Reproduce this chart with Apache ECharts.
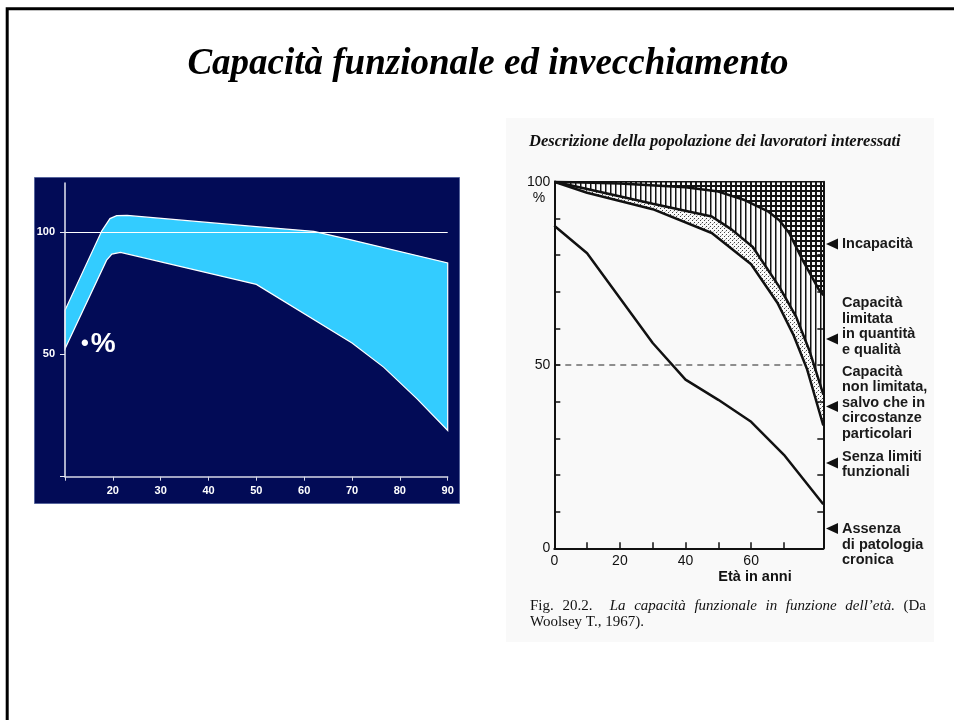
<!DOCTYPE html>
<html><head><meta charset="utf-8">
<script src="https://cdn.jsdelivr.net/npm/echarts@6/dist/echarts.min.js"></script>
<style>html,body{margin:0;padding:0;background:#fff}#c{width:954px;height:720px}</style>
</head><body><div id="c"></div>
<script>
// ---------- Left chart data: band of functional capacity (age, %) ----------
const leftAgeLabels = [20, 30, 40, 50, 60, 70, 80, 90];
const leftPctLabels = [50, 100];
const bandUpper = [[10, 68], [17.7, 100.5], [19.4, 105.5], [20.8, 106.7], [23, 106.8], [50, 102.2], [62, 100.3], [70, 96.7], [90, 87.4]];
const bandLower = [[10, 52.3], [18.7, 88.5], [19.8, 91], [21.6, 91.7], [50, 78.6], [70, 54.6], [76.6, 44.8], [83.6, 31.8], [90, 18.9]];
const leftRefValue = 100;

// ---------- Right chart data (Woolsey 1967) ----------
const rightAgeLabels = [0, 20, 40, 60];
const rightAgeTicks = [0, 10, 20, 30, 40, 50, 60, 70];
const rightPctLabels = [0, 50, 100];
const rightPctTicks = [10, 20, 30, 40, 50, 60, 70, 80, 90];
const lineAssenza = [[0, 88], [10, 80.5], [30, 56], [40, 46], [50, 40.5], [60, 34.5], [70, 25.5], [82, 12]];
const lineSenzaLimiti = [[0, 100], [10, 97], [30, 92.5], [48, 86], [60, 77.5], [68, 67], [73, 58], [77, 49], [82, 33.5]];
const lineNonLimitata = [[0, 100], [10, 98], [30, 94], [48, 90.5], [54, 87], [60.5, 82.2], [68.6, 71.3], [73.7, 63.2], [77.7, 54.1], [82, 42]];
const lineLimitata = [[0, 100], [20, 99.5], [40, 98.5], [50, 97.3], [58, 95], [65, 92], [68.6, 89.5], [71.6, 86], [75.7, 78.6], [80.7, 70.5], [82, 69]];
const lineIncapacita = [[0, 100], [82, 100]];
const ref50 = [[0, 50], [76.4, 50]];
const rightLabels = [
  { arrowY: 244, lines: ['Incapacità'], firstY: 244 },
  { arrowY: 339, lines: ['Capacità', 'limitata', 'in quantità', 'e qualità'], firstY: 303 },
  { arrowY: 406.5, lines: ['Capacità', 'non limitata,', 'salvo che in', 'circostanze', 'particolari'], firstY: 371.5 },
  { arrowY: 463, lines: ['Senza limiti', 'funzionali'], firstY: 456.5 },
  { arrowY: 528.5, lines: ['Assenza', 'di patologia', 'cronica'], firstY: 529 }
];
const captionLine1 = [['Fig.', 'n'], ['20.2.', 'n'], ['', 'n'], ['La', 'i'], ['capacità', 'i'], ['funzionale', 'i'], ['in', 'i'], ['funzione', 'i'], ['dell\u2019età.', 'i'], ['(Da', 'n']];
const captionLine2 = 'Woolsey T., 1967).';

// ---------- patterns ----------
function makeCanvas(w, h, draw) { const c = document.createElement('canvas'); c.width = w; c.height = h; draw(c.getContext('2d')); return c; }
const crossPat = makeCanvas(5, 5, g => { g.fillStyle = '#151515'; g.fillRect(0, 0, 5, 5); g.fillStyle = '#fafafa'; g.fillRect(2, 2, 3, 3); });
const vertPat = makeCanvas(5, 4, g => { g.fillStyle = '#fafafa'; g.fillRect(0, 0, 5, 4); g.fillStyle = '#111'; g.fillRect(0, 0, 1, 4); g.fillStyle = '#888'; g.fillRect(1, 0, 1, 4); });
const dotPat = makeCanvas(4, 4, g => { g.fillStyle = '#fafafa'; g.fillRect(0, 0, 4, 4); g.fillStyle = '#444'; g.fillRect(0, 0, 1, 1); g.fillRect(2, 2, 1, 1); g.fillStyle = '#bbb'; g.fillRect(1, 3, 1, 1); });

const chart = echarts.init(document.getElementById('c'), null, { renderer: 'canvas' });
const navy = '#020b56';
const sans = 'Liberation Sans';

const capFontN = '15px "Liberation Serif"';
const capFontI = 'italic 15px "Liberation Serif"';

const graphics = [
  { type: 'rect', z: -10, shape: { x: 506, y: 118, width: 428, height: 524 }, style: { fill: '#f9f9f9' } },
  { type: 'rect', z: -5, shape: { x: 34.5, y: 177.5, width: 425, height: 326 }, style: { fill: navy, stroke: '#56649c', lineWidth: 1 } },
  { type: 'rect', z: 100, shape: { x: 7.2, y: 8.7, width: 1200, height: 1200 }, style: { fill: null, stroke: '#000', lineWidth: 3 } },
  { type: 'text', z: 100, x: 488, y: 64, style: { text: 'Capacità funzionale ed invecchiamento', font: 'italic bold 37px "Liberation Serif"', fill: '#000', textAlign: 'center', textVerticalAlign: 'middle' } },
  { type: 'text', z: 100, x: 81, y: 344, style: { text: '{b|•}{p|%}', rich: { b: { fontSize: 22, fontWeight: 'bold', fill: '#fff', fontFamily: sans, padding: [0, 2, 0, 0] }, p: { fontSize: 28, fontWeight: 'bold', fill: '#fff', fontFamily: sans } }, textVerticalAlign: 'middle' } },
  { type: 'text', z: 100, x: 529, y: 142, style: { text: 'Descrizione della popolazione dei lavoratori interessati', font: 'italic bold 16.5px "Liberation Serif"', fill: '#111', textVerticalAlign: 'middle' } },
  { type: 'text', z: 100, x: 539, y: 198, style: { text: '%', font: '14px "Liberation Sans"', fill: '#111', textAlign: 'center', textVerticalAlign: 'middle' } },
  { type: 'text', z: 100, x: 755, y: 577, style: { text: 'Età in anni', font: 'bold 14.5px "Liberation Sans"', fill: '#111', textAlign: 'center', textVerticalAlign: 'middle' } },
  { type: 'text', z: 100, x: 530, y: 622, style: { text: captionLine2, font: capFontN, fill: '#111', textVerticalAlign: 'middle' } }
];
// justified first caption line
(function () {
  const g = document.createElement('canvas').getContext('2d');
  const x0 = 530, x1 = 926;
  const words = captionLine1.filter(w => w[0] !== '');
  let total = 0;
  const widths = words.map(w => { g.font = w[1] === 'i' ? capFontI : capFontN; const m = g.measureText(w[0]).width; total += m; return m; });
  const gaps = captionLine1.length - 1;
  const gap = (x1 - x0 - total) / gaps;
  let x = x0, wi = 0;
  captionLine1.forEach((w) => {
    if (w[0] === '') { x += gap; return; }
    graphics.push({ type: 'text', z: 100, x: x, y: 606, style: { text: w[0], font: w[1] === 'i' ? capFontI : capFontN, fill: '#111', textVerticalAlign: 'middle' } });
    x += widths[wi++] + gap;
  });
})();
rightLabels.forEach(l => {
  graphics.push({ type: 'polygon', z: 100, shape: { points: [[826, l.arrowY], [838, l.arrowY - 5.5], [838, l.arrowY + 5.5]] }, style: { fill: '#111' } });
  l.lines.forEach((t, i) => {
    graphics.push({ type: 'text', z: 100, x: 842, y: l.firstY + i * 15.5, style: { text: t, font: 'bold 14.5px "Liberation Sans"', fill: '#1a1a1a', textVerticalAlign: 'middle' } });
  });
});

function areaLine(name, data, fill, width) {
  const s = { name, type: 'line', xAxisIndex: 1, yAxisIndex: 1, data, symbol: 'none', silent: true,
    lineStyle: { color: '#111', width: width } };
  if (fill) s.areaStyle = { color: fill, opacity: 1, origin: 'start' };
  return s;
}
const pat = c => ({ image: c, repeat: 'repeat' });

const option = {
  animation: false,
  backgroundColor: '#fff',
  grid: [
    { left: 65, top: 183.1, width: 382.7, height: 293.6 },
    { left: 554.3, top: 181.7, width: 269, height: 366.6 }
  ],
  xAxis: [
    { gridIndex: 0, type: 'value', min: 10, max: 90, interval: 10, z: 10,
      axisLine: { show: true, lineStyle: { color: '#d6d8e6', width: 1.5 } },
      axisTick: { show: true, length: 4, lineStyle: { color: '#d6d8e6' } },
      axisLabel: { customValues: leftAgeLabels, color: '#fff', fontWeight: 'bold', fontSize: 11, fontFamily: sans, margin: 9 },
      splitLine: { show: false } },
    { gridIndex: 1, type: 'value', min: 0, max: 82, z: 10,
      axisLine: { show: true, lineStyle: { color: '#111', width: 2 } },
      axisTick: { show: true, inside: true, length: 6, customValues: rightAgeTicks, lineStyle: { color: '#111', width: 1.5 } },
      axisLabel: { customValues: rightAgeLabels, color: '#111', fontSize: 14, fontFamily: sans, margin: 6 },
      splitLine: { show: false } }
  ],
  yAxis: [
    { gridIndex: 0, type: 'value', min: 0, max: 120, z: 10,
      axisLine: { show: true, lineStyle: { color: '#e6e8f2', width: 1.5 } },
      axisTick: { show: true, length: 5, customValues: [0, 50, 100], lineStyle: { color: '#e6e8f2' } },
      axisLabel: { customValues: leftPctLabels, color: '#fff', fontWeight: 'bold', fontSize: 11, fontFamily: sans, margin: 10 },
      splitLine: { show: false } },
    { gridIndex: 1, type: 'value', min: 0, max: 100, z: 10,
      axisLine: { show: true, lineStyle: { color: '#111', width: 2 } },
      axisTick: { show: true, inside: true, length: 6, customValues: rightPctTicks, lineStyle: { color: '#111', width: 1.5 } },
      axisLabel: { customValues: rightPctLabels, color: '#111', fontSize: 14, fontFamily: sans, margin: 4 },
      splitLine: { show: false } },
    { gridIndex: 1, type: 'value', min: 0, max: 100, z: 10, position: 'right',
      axisLine: { show: true, onZero: false, lineStyle: { color: '#111', width: 2 } },
      axisTick: { show: true, inside: true, length: 6, customValues: rightPctTicks, lineStyle: { color: '#111', width: 1.5 } },
      axisLabel: { show: false }, splitLine: { show: false } }
  ],
  series: [
    { name: 'banda', type: 'custom', xAxisIndex: 0, yAxisIndex: 0, data: [0], silent: true,
      renderItem: function (params, api) {
        const pts = bandUpper.map(p => api.coord(p)).concat(bandLower.slice().reverse().map(p => api.coord(p)));
        return { type: 'polygon', shape: { points: pts }, style: { fill: '#33ccff', stroke: '#ffffff', lineWidth: 1.2 } };
      } },
    { name: 'rif100', type: 'line', xAxisIndex: 0, yAxisIndex: 0, data: [], silent: true,
      markLine: { silent: true, symbol: 'none', label: { show: false }, lineStyle: { color: '#fff', width: 1.2, type: 'solid' }, data: [{ yAxis: leftRefValue }] } },
    areaLine('Incapacità', lineIncapacita, pat(crossPat), 1.5),
    areaLine('Capacità limitata', lineLimitata, pat(vertPat), 2.5),
    areaLine('Capacità non limitata', lineNonLimitata, pat(dotPat), 2.5),
    areaLine('Senza limiti funzionali', lineSenzaLimiti, '#f9f9f9', 2.5),
    areaLine('Assenza di patologia cronica', lineAssenza, null, 2.5),
    { name: 'rif50', type: 'line', xAxisIndex: 1, yAxisIndex: 1, data: ref50, symbol: 'none', silent: true,
      lineStyle: { color: '#222', width: 1, type: [6, 5] } }
  ],
  graphic: { elements: graphics }
};
chart.setOption(option);
</script>
</body></html>
